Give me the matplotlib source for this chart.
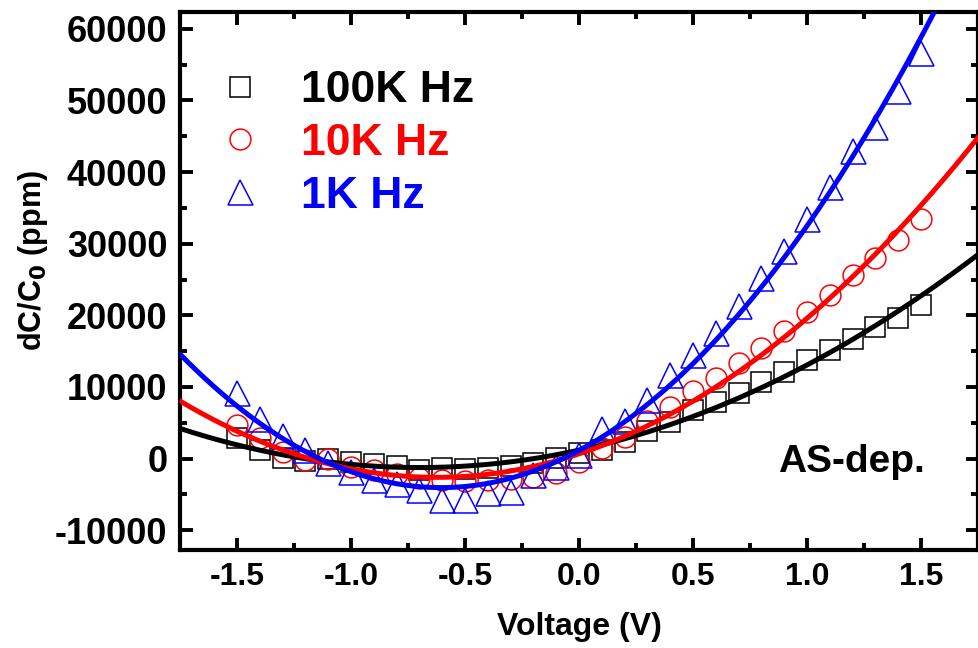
import matplotlib
matplotlib.use("Agg")
import matplotlib.pyplot as plt
import numpy as np

plt.rcParams['font.family'] = ['Liberation Sans', 'DejaVu Sans']
plt.rcParams['font.weight'] = 'bold'
plt.rcParams['mathtext.default'] = 'bf'
plt.rcParams['axes.unicode_minus'] = False

# bias voltage (V), -1.5 .. 1.5 in 0.1 steps
voltage = [-1.5, -1.4, -1.3, -1.2, -1.1, -1.0, -0.9, -0.8, -0.7, -0.6, -0.5,
           -0.4, -0.3, -0.2, -0.1, 0.0, 0.1, 0.2, 0.3, 0.4, 0.5,
           0.6, 0.7, 0.8, 0.9, 1.0, 1.1, 1.2, 1.3, 1.4, 1.5]

# dC/C0 in ppm
dc_100k = [2850, 1220, 50, -280, -100, -420, -780, -1100, -1580, -1340, -1480,
           -1250, -1020, -560, 50, 750, 1150, 2250, 3900, 5100, 6800,
           7960, 9150, 10650, 12150, 13800, 15180, 16680, 18400, 19700, 21450]
dc_10k = [4710, 2850, 980, -180, -80, -1120, -1580, -2140, -2740, -2970, -3100,
          -2970, -2900, -2510, -2040, -500, 1550, 2950, 5300, 7200, 9450,
          11300, 13300, 15500, 17800, 20500, 22900, 25700, 28000, 30500, 33500]
dc_1k = [9130, 5500, 3170, 1210, -650, -1820, -2970, -3500, -4370, -5770, -5770,
         -4830, -4610, -2280, -1120, 500, 4100, 5300, 8200, 11700, 14500,
         17600, 21300, 25200, 29050, 33440, 37900, 42880, 46300, 51260, 56620]

labels = ['100K Hz', '10K Hz', '1K Hz']
colors = ['black', 'red', 'blue']
markers = ['s', 'o', '^']
msizes = [14, 15, 18]

fig = plt.figure(figsize=(9.79, 6.48), dpi=100)
ax = fig.add_axes([0.1839, 0.1519, 0.815, 0.829])

v = np.array(voltage)
vfit = np.linspace(-1.75, 1.75, 300)
for data, lab, c, m, ms in zip([dc_100k, dc_10k, dc_1k], labels, colors, markers, msizes):
    ax.plot(v, data, linestyle='none', marker=m, markersize=ms, markerfacecolor='none',
            markeredgecolor=c, markeredgewidth=1.1, label=lab, zorder=2)
# quadratic fits
for data, c in zip([dc_100k, dc_10k, dc_1k], colors):
    p = np.polyfit(v, data, 2)
    ax.plot(vfit, np.polyval(p, vfit), color=c, linewidth=3.6, zorder=3)

ax.set_xlim(-1.75, 1.74)
ax.set_ylim(-12700, 62300)
ax.set_xticks([-1.5, -1.0, -0.5, 0.0, 0.5, 1.0, 1.5])
ax.set_xticks(np.arange(-1.75, 1.76, 0.25), minor=True)
ax.set_yticks(np.arange(-10000, 60001, 10000))
ax.set_yticks(np.arange(-10000, 62001, 5000), minor=True)
ax.set_xticklabels(['-1.5', '-1.0', '-0.5', '0.0', '0.5', '1.0', '1.5'])

ax.tick_params(which='both', direction='in', top=True, right=True, width=2.8, pad=9)
ax.tick_params(axis='y', labelsize=26)
ax.tick_params(axis='x', labelsize=23)
ax.tick_params(which='major', length=9)
ax.tick_params(which='minor', length=5)
for s in ax.spines.values():
    s.set_linewidth(3)

ax.set_xlabel('Voltage (V)', fontsize=23, fontweight='bold', labelpad=14)
ax.set_ylabel('dC/C$_0$ (ppm)', fontsize=22, fontweight='bold')
ax.yaxis.set_label_coords(-0.163, 0.537)

ax.text(0.934, 0.163, 'AS-dep.', transform=ax.transAxes, fontsize=28,
        fontweight='bold', ha='right', va='center')

leg = ax.legend(loc='upper left', bbox_to_anchor=(0.0476, 0.892), frameon=False,
                handletextpad=0.86, labelspacing=0.26, borderpad=0, borderaxespad=0,
                handlelength=1.0, labelcolor='markeredgecolor',
                prop={'weight': 'bold', 'size': 32})

fig.savefig('out.png', dpi=100)
